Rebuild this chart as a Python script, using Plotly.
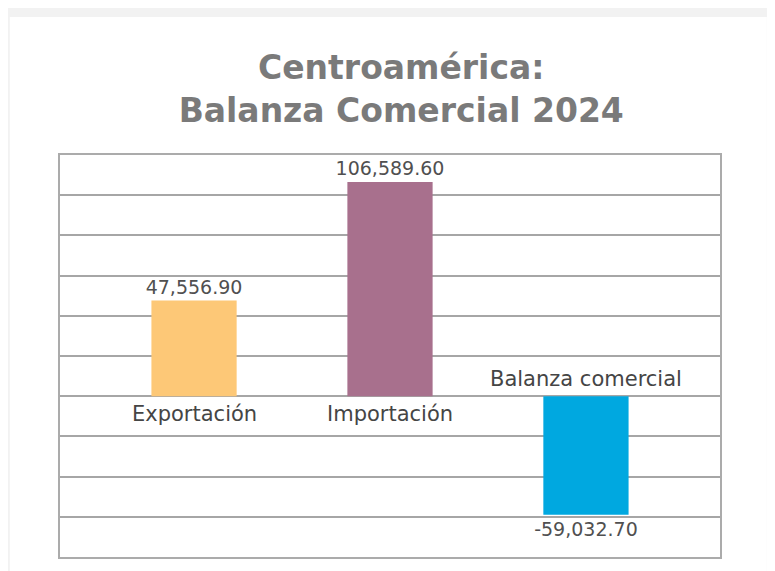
import plotly.graph_objects as go

categories = ["Exportación", "Importación", "Balanza comercial"]
values = [47556.90, 106589.60, -59032.70]
colors = ["#FDC877", "#A8708D", "#00A8E0"]
title_lines = ["Centroamérica:", "Balanza Comercial 2024"]

FONT = "DejaVu Sans, sans-serif"

fig = go.Figure()
fig.add_trace(go.Bar(
    x=list(range(len(categories))),
    y=values,
    marker=dict(color=colors, line=dict(width=0)),
    width=0.435,
    text=values,
    texttemplate="%{y:,.2f}",
    textposition="outside",
    constraintext="none",
    cliponaxis=False,
    textfont=dict(family=FONT, size=19, color="#505050"),
    hoverinfo="skip",
))

for i, (cat, v) in enumerate(zip(categories, values)):
    if v >= 0:
        fig.add_annotation(x=i, y=0, text=cat, showarrow=False, yanchor="top", yshift=-4,
                           font=dict(family=FONT, size=21, color="#454545"))
    else:
        fig.add_annotation(x=i, y=0, text=cat, showarrow=False, yanchor="bottom", yshift=3,
                           font=dict(family=FONT, size=21, color="#454545"))

fig.add_shape(type="rect", xref="paper", yref="paper", x0=-0.076, x1=1.071, y0=-0.1, y1=1.343,
              fillcolor="white", line=dict(width=0), layer="below")

fig.update_layout(
    width=767, height=563,
    margin=dict(l=52, r=55, t=147, b=14),
    paper_bgcolor="#F2F2F2",
    plot_bgcolor="white",
    showlegend=False,
    title=dict(text="<br>".join(title_lines), x=0.517, xanchor="center", xref="paper",
               y=0.874, yanchor="middle", yref="container",
               font=dict(family=FONT, size=33, color="#7A7A7A", weight=700)),
    xaxis=dict(range=[-0.684, 2.684], showticklabels=False, showgrid=False, zeroline=False,
               showline=True, mirror=True, linecolor="#ABABAB", linewidth=2, fixedrange=True),
    yaxis=dict(range=[-80000, 120000], dtick=20000, showticklabels=False, showgrid=True,
               gridcolor="#A6A6A6", gridwidth=1.5, zeroline=True, zerolinecolor="#A6A6A6",
               zerolinewidth=1.5, showline=True, mirror=True, linecolor="#ABABAB", linewidth=2),
)

fig.write_html("out.html")
